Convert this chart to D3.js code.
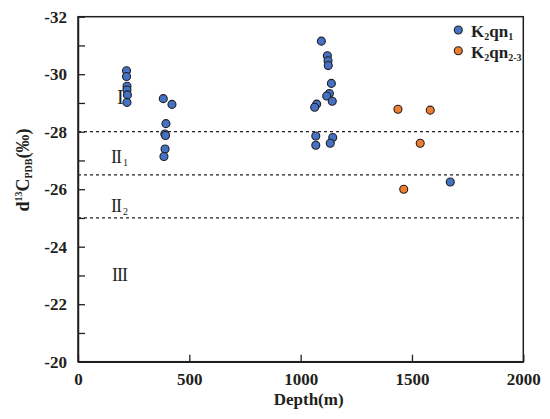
<!DOCTYPE html>
<html>
<head>
<meta charset="utf-8">
<script src="https://cdn.jsdelivr.net/npm/d3@7"></script>
<style>
  html, body { margin: 0; padding: 0; background: #fff; }
  svg { display: block; }
  text { font-family: "Liberation Serif", "Times New Roman", serif; fill: #231f20; }
</style>
</head>
<body>
<svg id="chart" width="550" height="419"></svg>
<script>
// K2qn1 samples
const qn1Depth = [218, 218, 220, 220, 222, 220,
  383, 422, 395, 390, 393, 391, 386,
  1093, 1120, 1123, 1124, 1138, 1129, 1117, 1142, 1072, 1063, 1068, 1068, 1144, 1133,
  1672];
const qn1D13C = [-30.12, -29.92, -29.58, -29.45, -29.28, -29.02,
  -29.15, -28.95, -28.28, -27.92, -27.87, -27.40, -27.14,
  -31.15, -30.64, -30.47, -30.30, -29.68, -29.33, -29.24, -29.06, -28.96, -28.85, -27.85, -27.53, -27.80, -27.60,
  -26.25];

// K2qn2-3 samples
const qn23Depth = [1437, 1582, 1537, 1463];
const qn23D13C = [-28.78, -28.75, -27.60, -26.00];

// zone boundaries and labels
const boundaries = [-28, -26.5, -25];
const zoneNames = ['I', 'II', 'II', 'III'];
const zoneSubs = ['', '1', '2', ''];
const zoneDepth = [175, 148, 148, 153];
const zoneValue = [-28.96, -26.91, -25.22, -22.81];

const xTicks = [0, 500, 1000, 1500, 2000];
const yTicks = d3.range(-32, -19, 1);

const blue = '#4472c4';
const orange = '#ed7d31';
const ink = '#231f20';

const svg = d3.select('#chart');
const plotL = 78, plotR = 523.3, plotT = 16.7, plotB = 361.7;

const x = d3.scaleLinear().domain([0, 2000]).range([plotL, plotR]);
const y = d3.scaleLinear().domain([-32, -20]).range([plotT, plotB]);

// frame
svg.append('rect')
  .attr('x', plotL).attr('y', plotT)
  .attr('width', plotR - plotL).attr('height', plotB - plotT)
  .attr('fill', 'none').attr('stroke', ink).attr('stroke-width', 1.5);

// axes
const xAxis = svg.append('g')
  .attr('transform', `translate(0,${plotB})`)
  .call(d3.axisBottom(x).tickValues(xTicks).tickFormat(d3.format('d'))
    .tickSizeInner(-7).tickSizeOuter(0).tickPadding(11));

const yAxis = svg.append('g')
  .attr('transform', `translate(${plotL},0)`)
  .call(d3.axisLeft(y).tickValues(yTicks).tickSizeInner(-7).tickSizeOuter(0).tickPadding(11)
    .tickFormat(d => d % 2 === 0 ? d : ''));

[xAxis, yAxis].forEach(a => {
  a.select('.domain').attr('stroke', ink).attr('stroke-width', 1.5);
  a.selectAll('.tick line').attr('stroke', ink).attr('stroke-width', 1.3);
  a.selectAll('.tick text')
    .attr('fill', ink)
    .style('font-family', '"Liberation Serif", serif')
    .style('font-size', '17px')
    .style('font-weight', 'bold');
});

// dashed boundaries
svg.append('g')
  .selectAll('line')
  .data(boundaries)
  .join('line')
  .attr('x1', plotL).attr('x2', plotR)
  .attr('y1', d => y(d)).attr('y2', d => y(d))
  .attr('stroke', ink)
  .attr('stroke-width', 1.3)
  .attr('stroke-dasharray', '3,3');

// zone labels
const zones = svg.append('g')
  .selectAll('text')
  .data(zoneNames)
  .join('text')
  .attr('x', (d, i) => x(zoneDepth[i]))
  .attr('y', (d, i) => y(zoneValue[i]))
  .style('font-size', (d, i) => i === 0 ? '20px' : '18px')
  .attr('letter-spacing', (d, i) => i === 0 ? 0 : -1);
zones.append('tspan').text(d => d);
zones.append('tspan')
  .attr('dx', 2)
  .attr('dy', 3)
  .style('font-size', '10px')
  .text((d, i) => zoneSubs[i]);

// points
const pts = svg.append('g');
pts.selectAll('circle.qn1')
  .data(qn1Depth)
  .join('circle')
  .attr('class', 'qn1')
  .attr('cx', d => x(d))
  .attr('cy', (d, i) => y(qn1D13C[i]))
  .attr('r', 4)
  .attr('fill', blue)
  .attr('stroke', ink)
  .attr('stroke-width', 1.1);

pts.selectAll('circle.qn23')
  .data(qn23Depth)
  .join('circle')
  .attr('class', 'qn23')
  .attr('cx', d => x(d))
  .attr('cy', (d, i) => y(qn23D13C[i]))
  .attr('r', 4)
  .attr('fill', orange)
  .attr('stroke', ink)
  .attr('stroke-width', 1.1);

// legend
const legend = svg.append('g').attr('transform', 'translate(458.3,30)');
const legendItems = [
  { color: blue, parts: [['K', 0], ['2', 1], ['qn', 0], ['1', 1]] },
  { color: orange, parts: [['K', 0], ['2', 1], ['qn', 0], ['2-3', 1]] }
];
legendItems.forEach((item, i) => {
  const row = legend.append('g').attr('transform', `translate(0,${i * 20.7})`);
  row.append('circle').attr('r', 4).attr('fill', item.color)
    .attr('stroke', ink).attr('stroke-width', 1.1);
  const t = row.append('text')
    .attr('x', 12.7).attr('y', 7)
    .style('font-size', '17px').style('font-weight', 'bold');
  let prevSub = 0;
  item.parts.forEach(([s, sub]) => {
    t.append('tspan')
      .attr('dy', sub - prevSub === 0 ? 0 : (sub ? 3 : -3))
      .style('font-size', sub ? '10px' : '17px')
      .text(s);
    prevSub = sub;
  });
});

// axis titles
svg.append('text')
  .attr('x', (plotL + plotR) / 2 + 8)
  .attr('y', 405)
  .attr('text-anchor', 'middle')
  .style('font-size', '17px')
  .style('font-weight', 'bold')
  .text('Depth(m)');

const yt = svg.append('text')
  .attr('transform', 'translate(29,170) rotate(-90)')
  .attr('text-anchor', 'middle')
  .style('font-size', '18px')
  .style('font-weight', 'bold');
yt.append('tspan').text('d');
yt.append('tspan').attr('dy', -7).style('font-size', '10px').text('13');
yt.append('tspan').attr('dy', 7).text('C');
yt.append('tspan').attr('dy', 3).style('font-size', '10px').text('PDB');
yt.append('tspan').attr('dy', -3).text('(‰)');
</script>
</body>
</html>
